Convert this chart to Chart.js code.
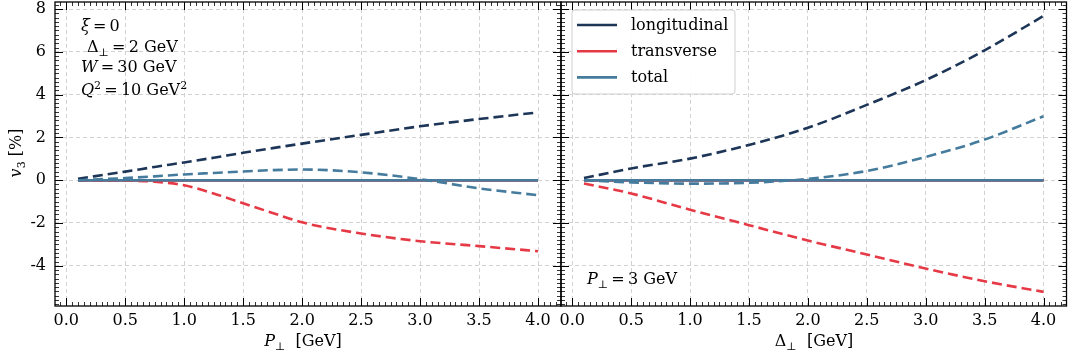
<!DOCTYPE html>
<html>
<head>
<meta charset="utf-8">
<title>v3 vs momentum</title>
<script src="https://cdn.jsdelivr.net/npm/chart.js@4.4.1/dist/chart.umd.min.js"></script>
<style>
  html, body { margin: 0; padding: 0; background: #fff; }
  .panel { position: absolute; left: 0; top: 0; width: 1068px; height: 360px; }
</style>
</head>
<body>
<div class="panel"><canvas id="leftChart"></canvas></div>
<div class="panel"><canvas id="rightChart"></canvas></div>
<script>
/*
 two panels, shared y axis: v3 [%] vs P_perp and vs Delta_perp
 */
const seriesNames = ['longitudinal', 'transverse', 'total'];
const seriesColors = ['#1d3557', '#e63946', '#457b9d'];

// left panel, x = P_perp [GeV]  (Delta_perp = 2 GeV)
const pPerp  = [0.1, 0.5, 0.75, 1.0, 1.25, 1.5, 1.75, 2.0, 2.5, 3.0, 3.5, 4.0];
const pLong  = [0.07, 0.40, 0.62, 0.83, 1.05, 1.28, 1.50, 1.71, 2.12, 2.52, 2.86, 3.17];
const pTrans = [0.0, -0.02, -0.07, -0.24, -0.62, -1.08, -1.53, -1.97, -2.49, -2.85, -3.08, -3.32];
const pTotal = [0.0, 0.10, 0.18, 0.27, 0.34, 0.41, 0.47, 0.50, 0.37, 0.05, -0.38, -0.70];

// right panel, x = Delta_perp [GeV]  (P_perp = 3 GeV)
const dPerp  = [0.1, 0.5, 1.0, 1.5, 2.0, 2.5, 3.0, 3.5, 4.0];
const dLong  = [0.10, 0.55, 1.01, 1.65, 2.45, 3.52, 4.68, 6.07, 7.68];
const dTrans = [-0.15, -0.62, -1.38, -2.10, -2.82, -3.47, -4.13, -4.72, -5.22];
const dTotal = [0.0, -0.10, -0.16, -0.12, 0.06, 0.43, 1.09, 1.90, 2.99];

// solid curves (legend entries) lie flat on zero in both panels
const flatX = [0.1, 4.0];
const flatV = [0, 0];

const xTicks = [0, 0.5, 1, 1.5, 2, 2.5, 3, 3.5, 4];
const yTicks = [-4, -2, 0, 2, 4, 6, 8];

const FONT = '"DejaVu Serif", "Liberation Serif", serif';
const FS = 16;

function pts(xs, ys) {
    return xs.map((x, i) => ({x: x, y: ys[i]}));
}

function makeDatasets(xs, vals) {
    let out = [];
    vals.forEach((v, i) => {
        out.push({
            label: seriesNames[i],
            data: pts(flatX, flatV),
            borderColor: seriesColors[i],
            borderWidth: 2.6,
            pointRadius: 0
        });
        out.push({
            label: seriesNames[i] + ' dashed',
            data: pts(xs, v),
            borderColor: seriesColors[i],
            borderWidth: 2.6,
            borderDash: [10, 5],
            pointRadius: 0,
            cubicInterpolationMode: 'monotone'
        });
    });
    // chart.js paints the first dataset on top, so flip it
    return out.reverse();
}

function noPad(s) {
    s.paddingTop = 0;
    s.paddingBottom = 0;
    s.paddingLeft = 0;
    s.paddingRight = 0;
}

function makeScales(showY) {
    return {
        x: {
            type: 'linear', min: -0.095, max: 4.195,
            afterBuildTicks: s => { s.ticks = xTicks.map(v => ({value: v})); },
            afterFit: s => { s.height = 54; noPad(s); },
            grid: {color: '#d2d2d2', lineWidth: 1, drawTicks: false, borderDash: [4, 3]},
            border: {display: false, dash: [4, 3]},
            ticks: {
                font: {family: FONT, size: FS}, color: '#000', padding: 5,
                autoSkip: false, maxRotation: 0,
                callback: v => v.toFixed(1)
            }
        },
        y: {
            type: 'linear', min: -5.88, max: 8.33,
            afterBuildTicks: s => { s.ticks = yTicks.map(v => ({value: v})); },
            afterFit: s => { s.width = showY ? 55 : 0; noPad(s); },
            grid: {color: '#d2d2d2', lineWidth: 1, drawTicks: false, borderDash: [4, 3]},
            border: {display: false, dash: [4, 3]},
            ticks: {
                display: showY,
                font: {family: FONT, size: FS}, color: '#000', padding: 9,
                callback: v => String(v)
            }
        }
    };
}

// text with italic / sub / sup pieces
function mathText(ctx, x, y, parts, align) {
    const fontFor = k => (k === 'i' ? 'italic ' : '') +
        ((k === 'sub' || k === 'sup') ? Math.round(FS * 0.7) : FS) + 'px ' + FONT;
    let w = 0;
    parts.forEach(p => { ctx.font = fontFor(p[1]); w += ctx.measureText(p[0]).width; });
    let cx = align === 'center' ? x - w / 2 : x;
    ctx.textAlign = 'left';
    ctx.textBaseline = 'alphabetic';
    ctx.fillStyle = '#000';
    parts.forEach(p => {
        ctx.font = fontFor(p[1]);
        const dy = p[1] === 'sub' ? FS * 0.25 : (p[1] === 'sup' ? -FS * 0.4 : 0);
        ctx.fillText(p[0], cx, y + dy);
        cx += ctx.measureText(p[0]).width;
    });
}

function line(ctx, x1, y1, x2, y2) {
    ctx.beginPath();
    ctx.moveTo(x1, y1);
    ctx.lineTo(x2, y2);
    ctx.stroke();
}

// inward ticks on all four sides plus the frame
function drawFrame(chart) {
    const ctx = chart.ctx, a = chart.chartArea;
    const xs = chart.scales.x, ys = chart.scales.y;
    ctx.save();
    ctx.strokeStyle = '#000';
    for (let k = -2; k <= 84; k++) {
        const v = k * 0.05;
        if (v < xs.min || v > xs.max) continue;
        const px = Math.round(xs.getPixelForValue(v)) + 0.5;
        const major = k % 10 === 0;
        const len = major ? 8 : 4;
        ctx.lineWidth = major ? 1 : 0.8;
        line(ctx, px, a.bottom, px, a.bottom - len);
        line(ctx, px, a.top, px, a.top + len);
    }
    for (let k = -30; k <= 42; k++) {
        const v = k * 0.2;
        if (v < ys.min || v > ys.max) continue;
        const py = Math.round(ys.getPixelForValue(v)) + 0.5;
        const major = k % 10 === 0;
        const len = major ? 8 : 4;
        ctx.lineWidth = major ? 1 : 0.8;
        line(ctx, a.left, py, a.left + len, py);
        line(ctx, a.right, py, a.right - len, py);
    }
    ctx.lineWidth = 1.3;
    ctx.strokeRect(a.left, a.top, a.right - a.left, a.bottom - a.top);
    ctx.restore();
}

const leftDecor = {
    id: 'leftDecor',
    afterDraw(chart) {
        const ctx = chart.ctx;
        drawFrame(chart);
        ctx.save();
        mathText(ctx, 81, 31, [['ξ', 'i'], ['\u2009=\u2009', 'r'], ['0', 'r']]);
        mathText(ctx, 87, 52, [['Δ', 'r'], ['⊥', 'sub'], ['\u2009=\u20092 GeV', 'r']]);
        mathText(ctx, 81, 72, [['W', 'i'], ['\u2009=\u200930 GeV', 'r']]);
        mathText(ctx, 81, 95, [['Q', 'i'], ['2', 'sup'], ['\u2009=\u200910 GeV', 'r'], ['2', 'sup']]);
        mathText(ctx, 303, 346, [['P', 'i'], ['⊥', 'sub'], ['  [GeV]', 'r']], 'center');
        ctx.translate(21, 153);
        ctx.rotate(-Math.PI / 2);
        mathText(ctx, 0, 0, [['v', 'i'], ['3', 'sub'], [' [%]', 'r']], 'center');
        ctx.restore();
    }
};

const rightDecor = {
    id: 'rightDecor',
    afterDraw(chart) {
        const ctx = chart.ctx;
        drawFrame(chart);
        ctx.save();
        mathText(ctx, 587, 284, [['P', 'i'], ['⊥', 'sub'], ['\u2009=\u20093 GeV', 'r']]);
        mathText(ctx, 814, 346, [['Δ', 'r'], ['⊥', 'sub'], ['  [GeV]', 'r']], 'center');

        // legend box
        ctx.fillStyle = 'rgba(255,255,255,0.92)';
        ctx.strokeStyle = '#d0d0d0';
        ctx.lineWidth = 1;
        ctx.beginPath();
        ctx.roundRect(572, 10, 163, 84, 3);
        ctx.fill();
        ctx.stroke();
        seriesNames.forEach((name, i) => {
            const y = 25 + i * 26.2;
            ctx.strokeStyle = seriesColors[i];
            ctx.lineWidth = 2.6;
            line(ctx, 577, y, 617, y);
            ctx.fillStyle = '#000';
            ctx.font = FS + 'px ' + FONT;
            ctx.textAlign = 'left';
            ctx.textBaseline = 'alphabetic';
            ctx.fillText(name, 631, y + 5);
        });
        ctx.restore();
    }
};

function makeChart(id, xs, vals, showY, pad, decor) {
    return new Chart(document.getElementById(id).getContext('2d'), {
        type: 'line',
        data: {datasets: makeDatasets(xs, vals)},
        options: {
            responsive: true,
            maintainAspectRatio: false,
            animation: false,
            layout: {padding: pad},
            plugins: {legend: {display: false}, tooltip: {enabled: false}},
            scales: makeScales(showY)
        },
        plugins: [decor]
    });
}

window.leftChart = makeChart('leftChart', pPerp, [pLong, pTrans, pTotal], true,
    {left: 0, top: 2, right: 507, bottom: 0}, leftDecor);
window.rightChart = makeChart('rightChart', dPerp, [dLong, dTrans, dTotal], false,
    {left: 561, top: 2, right: 1.5, bottom: 0}, rightDecor);
</script>
</body>
</html>
